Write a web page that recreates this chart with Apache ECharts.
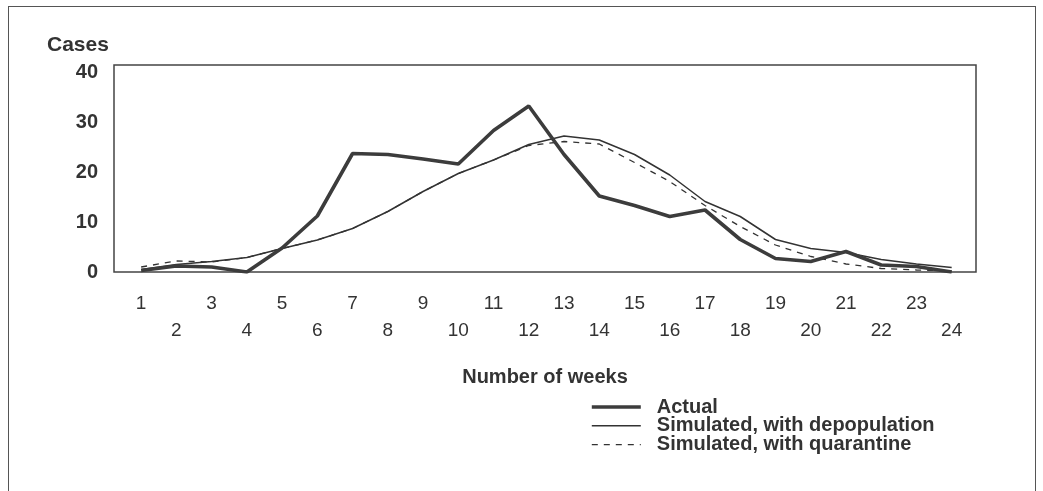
<!DOCTYPE html>
<html>
<head>
<meta charset="utf-8">
<script src="https://cdn.jsdelivr.net/npm/echarts@6/dist/echarts.min.js"></script>
<style>
  html, body { margin: 0; padding: 0; background: #fff; }
  #wrap { position: relative; width: 1043px; height: 491px; overflow: hidden; }
  #frame { position: absolute; left: 8px; top: 6px; width: 1028px; height: 500px;
           border: 1.5px solid #555; box-sizing: border-box; }
  #chart { position: absolute; left: 0; top: 0; width: 1043px; height: 491px; }
</style>
</head>
<body>
<div id="wrap">
  <div id="frame"></div>
  <div id="chart"></div>
</div>
<script>
const weeks = [1,2,3,4,5,6,7,8,9,10,11,12,13,14,15,16,17,18,19,20,21,22,23,24];
const actual = [0.3, 1.2, 1.0, 0, 4.8, 11.2, 23.7, 23.5, 22.6, 21.6, 28.3, 33.2, 23.5, 15.2, 13.3, 11.1, 12.4, 6.5, 2.7, 2.1, 4.1, 1.4, 1.1, 0];
const depopulation = [0.5, 1.5, 2.1, 2.9, 4.7, 6.4, 8.7, 12.1, 16.1, 19.7, 22.4, 25.5, 27.2, 26.4, 23.5, 19.4, 14.1, 11.1, 6.5, 4.7, 3.9, 2.5, 1.6, 0.9];
const quarantine = [1.0, 2.2, 2.0, 2.9, 4.7, 6.4, 8.7, 12.1, 16.1, 19.7, 22.4, 25.3, 26.1, 25.6, 21.9, 18.1, 13.3, 9.1, 5.4, 3.1, 1.6, 0.7, 0.4, 0.2];
const yTicks = [0, 10, 20, 30, 40];
const seriesNames = ['Actual', 'Simulated, with depopulation', 'Simulated, with quarantine'];

const font = "'Liberation Sans', Arial, Helvetica, sans-serif";
const pair = arr => weeks.map((w, i) => [w, arr[i]]);
const lineStyles = [
  { color: '#3c3c3c', width: 3.6 },
  { color: '#333', width: 1.5 },
  { color: '#333', width: 1.3, type: [6, 6] }
];

const chart = echarts.init(document.getElementById('chart'), null, { renderer: 'canvas' });
chart.setOption({
  animation: false,
  backgroundColor: 'transparent',
  textStyle: { fontFamily: font, color: '#333' },
  title: {
    text: 'Cases', left: 42, top: 30,
    textStyle: { fontFamily: font, fontSize: 21, fontWeight: 'bold', color: '#333' }
  },
  grid: {
    left: 114, right: 67, top: 65, bottom: 219,
    show: true, borderColor: '#444', borderWidth: 1.5, backgroundColor: 'transparent'
  },
  xAxis: {
    type: 'value', min: 0.23, max: 24.69,
    name: 'Number of weeks', nameLocation: 'middle', nameGap: 95,
    nameTextStyle: { fontFamily: font, fontSize: 20, fontWeight: 'bold', color: '#333' },
    axisLine: { show: false }, axisTick: { show: false }, splitLine: { show: false },
    axisLabel: {
      customValues: weeks, margin: 18, fontSize: 19, lineHeight: 27, color: '#333', fontFamily: font,
      formatter: v => (v % 2 === 1 ? String(v) : '\n' + v)
    }
  },
  yAxis: {
    type: 'value', min: 0, max: 41.4,
    axisLine: { show: false }, axisTick: { show: false }, splitLine: { show: false },
    axisLabel: {
      customValues: yTicks, margin: 16, fontSize: 20, fontWeight: 'bold', color: '#333', fontFamily: font
    }
  },
  legend: {
    orient: 'vertical', left: 590, top: 397, padding: 0,
    itemWidth: 49, itemHeight: 12, itemGap: -1.2,
    itemStyle: { opacity: 0 },
    textStyle: { fontFamily: font, fontSize: 20, fontWeight: 'bold', color: '#333', padding: [0, 0, 0, 11] },
    data: seriesNames.map((n, i) => ({ name: n, lineStyle: lineStyles[i], itemStyle: { opacity: 0 } }))
  },
  series: [
    {
      name: seriesNames[0], type: 'line', data: pair(actual), symbol: 'none', z: 3,
      lineStyle: lineStyles[0], itemStyle: { color: '#3c3c3c' }
    },
    {
      name: seriesNames[1], type: 'line', data: pair(depopulation), symbol: 'none', z: 2,
      lineStyle: lineStyles[1], itemStyle: { color: '#333' }
    },
    {
      name: seriesNames[2], type: 'line', data: pair(quarantine), symbol: 'none', z: 2,
      lineStyle: lineStyles[2], itemStyle: { color: '#333' }
    }
  ]
});
</script>
</body>
</html>
